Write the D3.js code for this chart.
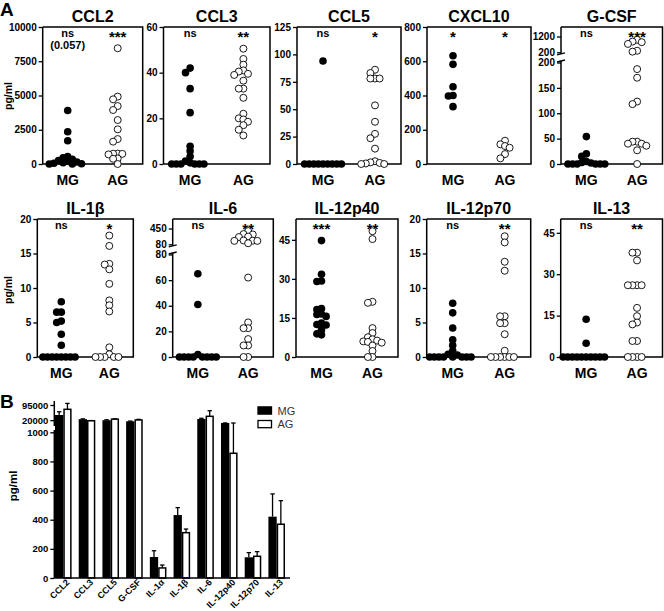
<!DOCTYPE html>
<html><head><meta charset="utf-8">
<script src="https://cdn.jsdelivr.net/npm/d3@7"></script>
<style>
html,body{margin:0;padding:0;background:#fff;}
svg{display:block;font-family:"Liberation Sans",Arial,Helvetica,sans-serif;}
</style></head><body>
<svg id="c" width="664" height="611"></svg>
<script>
// ---------------- DATA ----------------
const groups = ["MG", "AG"];
const panelNames = ["CCL2","CCL3","CCL5","CXCL10","G-CSF","IL-1β","IL-6","IL-12p40","IL-12p70","IL-13"];

const ccl2MG = [3900, 2350, 1700, 550, 450, 350, 250, 200, 150, 100, 50, 20, 0, 0];
const ccl2AG = [8450, 4920, 4720, 4230, 3940, 3210, 2530, 1820, 1630, 760, 750, 740, 700, 400, 380, 0];
const ccl3MG = [42, 40, 33, 22.5, 7.8, 5.7, 3.3, 1.3, 0.5, 0, 0, 0, 0, 0, 0];
const ccl3AG = [50.5, 46, 43.5, 41, 40.5, 39.5, 39, 36.5, 33, 33, 29, 22, 20, 19.5, 18.5, 17, 15, 12.5];
const ccl5MG = [94, 0, 0, 0, 0, 0, 0, 0, 0, 0];
const ccl5AG = [86, 83, 78, 78, 78, 53.5, 38.5, 27.5, 23.5, 14, 2.5, 1.5, 1, 0.5, 0, 0];
const cxcl10MG = [632, 582, 451, 400, 397, 335];
const cxcl10AG = [136, 115, 105, 95, 58, 33];
const gcsfMG = [54, 20, 15, 5, 3, 2, 0, 0, 0, 0, 0, 0];
const gcsfAG = [990, 880, 840, 730, 300, 240, 187, 170, 123, 118, 44, 44, 40, 40, 36, 27, 0];
const il1bMG = [8, 6.5, 6.5, 5.2, 5, 3.3, 1.7, 0, 0, 0, 0, 0, 0, 0, 0];
const il1bAG = [17.6, 16.1, 13.5, 13.4, 12.7, 10.6, 8.2, 7.5, 6.6, 1.4, 0.4, 0, 0, 0, 0, 0];
const il6MG = [65, 41, 2, 0, 0, 0, 0, 0, 0, 0, 0];
const il6AG = [390, 320, 310, 260, 250, 170, 165, 160, 160, 105, 62, 27, 22.5, 22.5, 14, 9, 9, 0, 0];
const il12p40MG = [44.7, 31.8, 29.2, 29, 18.6, 18.2, 16.5, 16.3, 15.6, 13, 12.5, 12.3, 10.5, 8.9, 8.5];
const il12p40AG = [48.3, 45.3, 21.2, 20.8, 11.1, 9.2, 7.6, 6.8, 6.3, 6, 5.8, 5.5, 4.4, 2.3, 0, 0];
const il12p70MG = [7.8, 6.4, 4.2, 2.5, 1.7, 0.9, 0.4, 0.3, 0, 0, 0, 0, 0, 0, 0, 0];
const il12p70AG = [17.5, 16.6, 13.8, 12.5, 5.9, 5.9, 4.9, 4.9, 3.3, 0.9, 0, 0, 0, 0, 0, 0];
const il13MG = [13.7, 5, 0, 0, 0, 0, 0, 0, 0, 0, 0, 0];
const il13AG = [37.8, 37.8, 35, 26, 26, 26, 26, 17.8, 14.8, 12.5, 11.8, 5.8, 5.8, 0, 0, 0, 0];

const sigMG = ["ns", "ns", "ns", "*", "ns", "ns", "ns", "***", "ns", "ns"];
const sigAG = ["***", "**", "*", "*", "***", "*", "**", "**", "**", "**"];
const ccl2Note = "(0.057)";

const ccl2Ticks = [0, 2500, 5000, 7500, 10000];
const ccl3Ticks = [0, 20, 40, 60];
const ccl5Ticks = [0, 25, 50, 75, 100, 125];
const cxcl10Ticks = [0, 200, 400, 600, 800];
const gcsfTicksLow = [0, 50, 100, 150, 200];
const gcsfTicksHigh = [200, 1200];
const il1bTicks = [0, 5, 10, 15, 20];
const il6TicksLow = [0, 20, 40, 60, 80];
const il6TicksHigh = [80, 450];
const il12p40Ticks = [0, 15, 30, 45];
const il12p70Ticks = [0, 5, 10, 15, 20];
const il13Ticks = [0, 15, 30, 45];

const axisMax = [10000, 60, 125, 800, 1200, 20, 450, 53, 20, 50];

// Panel B
const barCats = ["CCL2","CCL3","CCL5","G-CSF","IL-1α","IL-1β","IL-6","IL-12p40","IL-12p70","IL-13"];
const barMG = [45500, 25000, 20000, 14500, 144, 432, 26000, 6000, 142, 421];
const errMG = [16000, 1500, 2000, 1000, 43, 51, 3300, 300, 32, 156];
const barAG = [73700, 17000, 25000, 21000, 69, 311, 39000, 856, 149, 369];
const errAG = [29000, 1000, 1500, 3000, 20, 25, 27800, 5000, 32, 162];
const barTicksLow = [0, 200, 400, 600, 800, 1000];
const barTicksHigh = [20000, 95000];

// ---------------- LAYOUT ----------------
const svg = d3.select("#c");
const FONT = '"Liberation Sans",Arial,Helvetica,sans-serif';
const rows = [{y0: 27, y1: 164}, {y0: 219, y1: 357}];
const boxX = [[42.7,142.7],[163.5,270],[297,401],[427,531],[561,662.5],
              [37.3,133.3],[172.7,273.3],[296,398],[426.7,530.7],[560.7,662.5]];

const panels = [
  {mg: ccl2MG, ag: ccl2AG, ticks: ccl2Ticks},
  {mg: ccl3MG, ag: ccl3AG, ticks: ccl3Ticks},
  {mg: ccl5MG, ag: ccl5AG, ticks: ccl5Ticks},
  {mg: cxcl10MG, ag: cxcl10AG, ticks: cxcl10Ticks},
  {mg: gcsfMG, ag: gcsfAG, ticksLow: gcsfTicksLow, ticksHigh: gcsfTicksHigh, broken: 200},
  {mg: il1bMG, ag: il1bAG, ticks: il1bTicks},
  {mg: il6MG, ag: il6AG, ticksLow: il6TicksLow, ticksHigh: il6TicksHigh, broken: 80},
  {mg: il12p40MG, ag: il12p40AG, ticks: il12p40Ticks},
  {mg: il12p70MG, ag: il12p70AG, ticks: il12p70Ticks},
  {mg: il13MG, ag: il13AG, ticks: il13Ticks}
];

function styleAxis(g, size) {
  g.attr("font-family", FONT).attr("font-size", size).attr("font-weight", "bold");
  g.selectAll(".domain").remove();
  g.selectAll(".tick line").attr("stroke", "#000").attr("stroke-width", 1.3);
  g.selectAll(".tick text").attr("fill", "#000");
}

function swarm(vals, yfn, cx, step, dmin) {
  const placed = [];
  vals.forEach(v => {
    const y = yfn(v);
    for (let k = 0; k < 60; k++) {
      const off = k === 0 ? 0 : (k % 2 ? -Math.ceil(k / 2) : Math.ceil(k / 2)) * step;
      const x = cx + off;
      if (placed.every(p => Math.hypot(p.x - x, p.y - y) >= dmin - 1e-6)) {
        placed.push({x, y, v});
        break;
      }
    }
  });
  return placed;
}

// Panel letters
svg.append("text").attr("x", 0).attr("y", 16).attr("font-size", 19).attr("font-weight", "bold").text("A");
svg.append("text").attr("x", 0).attr("y", 408).attr("font-size", 19).attr("font-weight", "bold").text("B");

// pg/ml labels panel A
[96, 290].forEach(cy => {
  svg.append("text").attr("transform", `translate(11.5,${cy}) rotate(-90)`)
    .attr("text-anchor", "middle").attr("font-size", 10.5).attr("font-weight", "bold").text("pg/ml");
});

panels.forEach((p, i) => {
  const [x0, x1] = boxX[i];
  const {y0, y1} = rows[i < 5 ? 0 : 1];
  const g = svg.append("g");
  let yfn;
  let upperBottom, lowerTop;
  if (p.broken) {
    upperBottom = y0 + 25.3; lowerTop = y0 + 35.5;
    const lower = d3.scaleLinear().domain([0, p.broken]).range([y1, lowerTop]);
    const upper = d3.scaleLinear().domain([p.broken, axisMax[i]]).range([upperBottom, y0 + 9.5]);
    yfn = v => v <= p.broken ? lower(v) : upper(v);
    const a1 = g.append("g").attr("transform", `translate(${x0},0)`)
      .call(d3.axisLeft(lower).tickValues(p.ticksLow).tickSize(4).tickPadding(2).tickFormat(d3.format("d")));
    styleAxis(a1, 10);
    const a2 = g.append("g").attr("transform", `translate(${x0},0)`)
      .call(d3.axisLeft(upper).tickValues(p.ticksHigh).tickSize(4).tickPadding(2).tickFormat(d3.format("d")));
    styleAxis(a2, 10);
    g.append("line").attr("x1", x0).attr("x2", x0).attr("y1", y0).attr("y2", upperBottom + 1.5)
      .attr("stroke", "#000").attr("stroke-width", 1.5);
    g.append("line").attr("x1", x0).attr("x2", x0).attr("y1", lowerTop - 1.5).attr("y2", y1)
      .attr("stroke", "#000").attr("stroke-width", 1.5);
    [upperBottom + 1.5, lowerTop - 1.5].forEach(yy => {
      g.append("line").attr("x1", x0 - 4).attr("x2", x0 + 4).attr("y1", yy + 1).attr("y2", yy - 1)
        .attr("stroke", "#000").attr("stroke-width", 1.3);
    });
  } else {
    const sc = d3.scaleLinear().domain([0, axisMax[i]]).range([y1, y0]);
    yfn = sc;
    const a = g.append("g").attr("transform", `translate(${x0},0)`)
      .call(d3.axisLeft(sc).tickValues(p.ticks).tickSize(4).tickPadding(2).tickFormat(d3.format("d")));
    styleAxis(a, 10);
    g.append("line").attr("x1", x0).attr("x2", x0).attr("y1", y0).attr("y2", y1)
      .attr("stroke", "#000").attr("stroke-width", 1.5);
  }
  g.append("path").attr("d", `M${x0},${y0}H${x1}V${y1}H${x0}`)
    .attr("fill", "none").attr("stroke", "#000").attr("stroke-width", 1.5);

  const xs = d3.scalePoint().domain(groups).range([x0, x1]).padding(0.5);

  g.append("text").attr("x", (x0 + x1) / 2).attr("y", y0 - 5).attr("text-anchor", "middle")
    .attr("font-size", 16).attr("font-weight", "bold").text(panelNames[i]);
  groups.forEach(gr => {
    g.append("text").attr("x", xs(gr)).attr("y", y1 + 21).attr("text-anchor", "middle")
      .attr("font-size", 14).attr("font-weight", "bold").text(gr);
  });
  [[sigMG[i], "MG"], [sigAG[i], "AG"]].forEach(([s, gr]) => {
    const isStar = s.indexOf("*") >= 0;
    g.append("text").attr("x", xs(gr)).attr("y", isStar ? y0 + 15 : y0 + 9.7)
      .attr("text-anchor", "middle").attr("font-size", isStar ? 15 : 11).attr("font-weight", "bold").text(s);
  });
  if (i === 0) {
    g.append("text").attr("x", xs("MG")).attr("y", y0 + 22).attr("text-anchor", "middle")
      .attr("font-size", 11).attr("font-weight", "bold").text(ccl2Note);
  }
  const mgPts = swarm(p.mg, yfn, xs("MG"), 4.6, 4.6);
  const agPts = swarm(p.ag, yfn, xs("AG"), 4.6, 4.6);
  g.selectAll("circle.mg").data(mgPts).join("circle").attr("class", "mg")
    .attr("cx", d => d.x).attr("cy", d => d.y).attr("r", 3.8).attr("fill", "#000");
  g.selectAll("circle.ag").data(agPts).join("circle").attr("class", "ag")
    .attr("cx", d => d.x).attr("cy", d => d.y).attr("r", 3.5)
    .attr("fill", "#fff").attr("stroke", "#000").attr("stroke-width", 0.9);
});

// ---------------- PANEL B ----------------
const bx0 = 54.3, bx1 = 290, by0 = 578;
const lowerB = d3.scaleLinear().domain([0, 1000]).range([by0, 432.3]);
const upperB = d3.scaleLinear().domain([1000, 95000]).range([424, 405]);
const yB = v => v <= 1000 ? lowerB(v) : upperB(v);
const xB = d3.scaleBand().domain(barCats).range([55, 285]).paddingInner(0.3).paddingOuter(0);
const sub = d3.scaleBand().domain(groups).range([0, xB.bandwidth()]);
const gb = svg.append("g");

const ab1 = gb.append("g").attr("transform", `translate(${bx0},0)`)
  .call(d3.axisLeft(lowerB).tickValues(barTicksLow).tickSize(4).tickPadding(2).tickFormat(d3.format("d")));
styleAxis(ab1, 9.5);
const ab2 = gb.append("g").attr("transform", `translate(${bx0},0)`)
  .call(d3.axisLeft(upperB).tickValues(barTicksHigh).tickSize(4).tickPadding(2).tickFormat(d3.format("d")));
styleAxis(ab2, 9.5);
gb.append("line").attr("x1", bx0).attr("x2", bx0).attr("y1", by0).attr("y2", 430)
  .attr("stroke", "#000").attr("stroke-width", 1.5);
gb.append("line").attr("x1", bx0).attr("x2", bx0).attr("y1", 426).attr("y2", 401)
  .attr("stroke", "#000").attr("stroke-width", 1.5);

svg.append("text").attr("transform", `translate(17,486) rotate(-90)`)
  .attr("text-anchor", "middle").attr("font-size", 11.5).attr("font-weight", "bold").text("pg/ml");

const barRows = barCats.map((c, i) => ({c, MG: barMG[i], AG: barAG[i], eMG: errMG[i], eAG: errAG[i]}));
barRows.forEach(r => {
  groups.forEach(gr => {
    const v = r[gr], e = r["e" + gr];
    const x = xB(r.c) + sub(gr), w = sub.bandwidth();
    const top = yB(v);
    const etop = yB(v + e);
    gb.append("line").attr("x1", x + w / 2).attr("x2", x + w / 2).attr("y1", top).attr("y2", etop)
      .attr("stroke", "#000").attr("stroke-width", 1.3);
    gb.append("line").attr("x1", x + w / 2 - 2.2).attr("x2", x + w / 2 + 2.2).attr("y1", etop).attr("y2", etop)
      .attr("stroke", "#000").attr("stroke-width", 1.3);
    gb.append("rect").attr("x", x + (gr === "AG" ? 0.75 : 0)).attr("y", top)
      .attr("width", w - (gr === "AG" ? 1.5 : 0)).attr("height", by0 - top)
      .attr("fill", gr === "MG" ? "#000" : "#fff").attr("stroke", "#000").attr("stroke-width", gr === "MG" ? 0 : 1.5);
  });
});
gb.append("line").attr("x1", bx0).attr("x2", bx1).attr("y1", by0).attr("y2", by0)
  .attr("stroke", "#000").attr("stroke-width", 1.5);

barCats.forEach(c => {
  const cx = xB(c) + xB.bandwidth() / 2;
  gb.append("text").attr("transform", `translate(${cx + 4},${by0 + 2}) rotate(-45)`)
    .attr("text-anchor", "end").attr("dy", "0.45em").attr("font-size", 9).attr("font-weight", "bold").text(c);
});

groups.forEach((gr, k) => {
  const ly = 410.5 + k * 13.6;
  gb.append("rect").attr("x", 258).attr("y", ly - 3.6).attr("width", 13.5).attr("height", 7.2)
    .attr("fill", gr === "MG" ? "#000" : "#fff").attr("stroke", "#000").attr("stroke-width", 1.3);
  gb.append("text").attr("x", 277.5).attr("y", ly + 4).attr("font-size", 11).attr("fill", "#333").text(gr);
});
</script>
</body></html>
